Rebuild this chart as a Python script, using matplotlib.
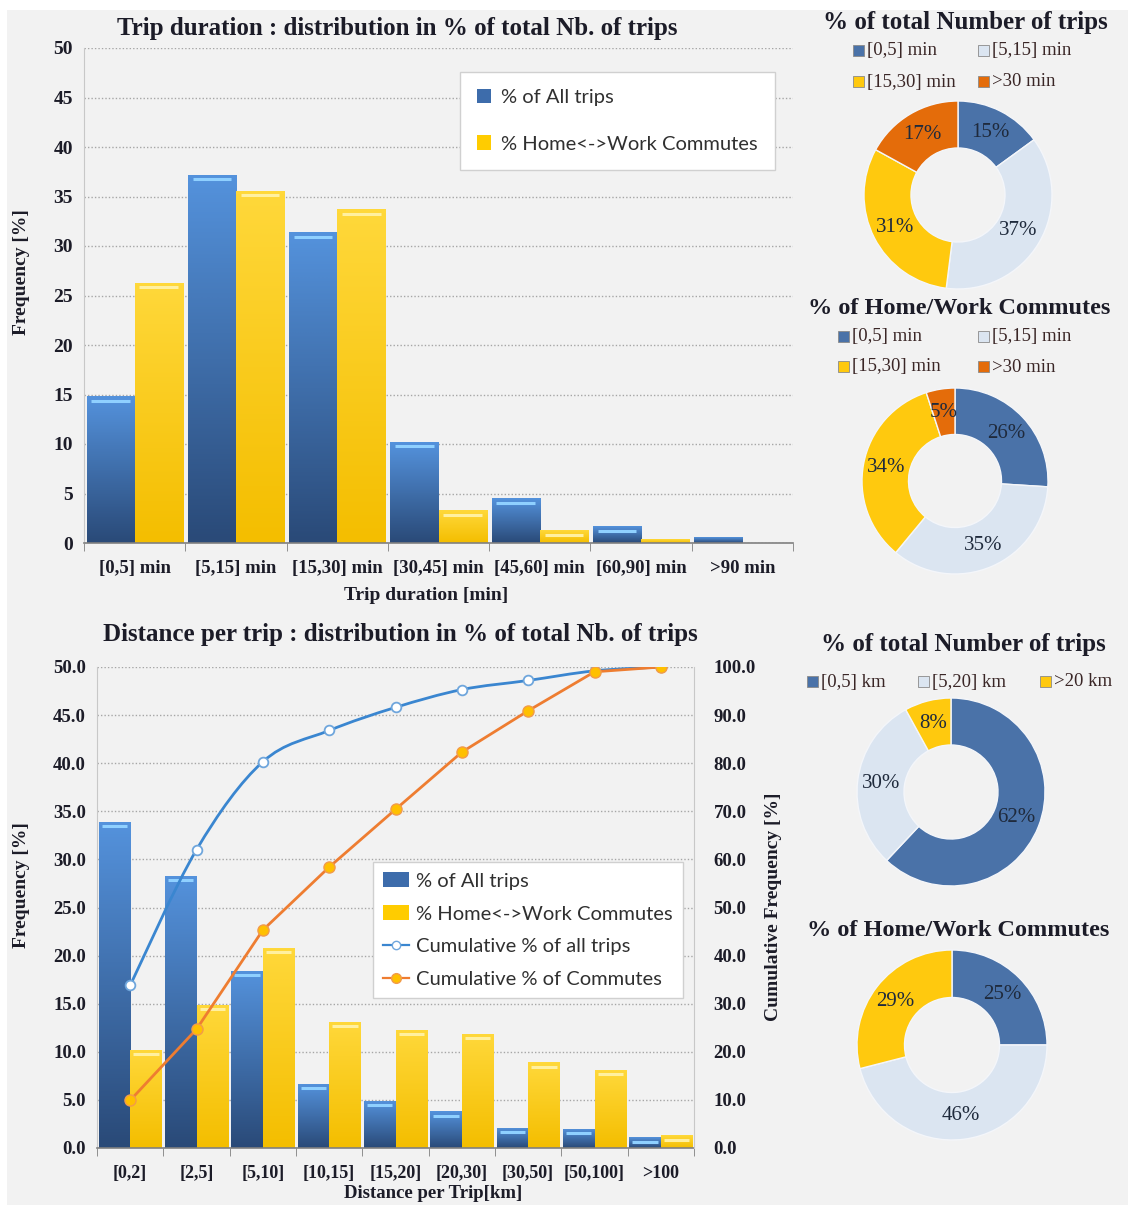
import numpy as np
import matplotlib
matplotlib.use("Agg")
import matplotlib.pyplot as plt
from matplotlib.patches import Rectangle, PathPatch
from matplotlib.path import Path
from matplotlib.lines import Line2D
from matplotlib.colors import LinearSegmentedColormap

# trip duration histogram
duration_bins = ['[0,5] min', '[5,15] min', '[15,30] min', '[30,45] min',
                 '[45,60] min', '[60,90] min', '>90 min']
duration_all = [14.8, 37.2, 31.4, 10.2, 4.5, 1.7, 0.6]
duration_commute = [26.3, 35.6, 33.7, 3.3, 1.3, 0.4, 0.0]

# duration shares for the donuts
duration_groups = ['[0,5] min', '[5,15] min', '[15,30] min', '>30 min']
duration_share_all = [15, 37, 31, 17]
duration_share_commute = [26, 35, 34, 5]

# distance histogram + cumulative curves
distance_bins = ['[0,2]', '[2,5]', '[5,10]', '[10,15]', '[15,20]',
                 '[20,30]', '[30,50]', '[50,100]', '>100']
distance_all = [33.9, 28.3, 18.4, 6.7, 4.9, 3.8, 2.1, 2.0, 1.1]
distance_commute = [10.2, 14.9, 20.8, 13.1, 12.3, 11.9, 8.9, 8.1, 1.3]
cum_all = [33.8, 62.0, 80.3, 86.8, 91.6, 95.3, 97.2, 99.2, 100.0]
cum_commute = [9.9, 24.7, 45.3, 58.4, 70.4, 82.3, 90.9, 99.0, 100.0]

# distance shares for the donuts
distance_groups = ['[0,5] km', '[5,20] km', '>20 km']
distance_share_all = [62, 30, 8]
distance_share_commute = [25, 46, 29]

W, H = 1128, 1205
BG = '#f2f2f2'
SERIF = 'Liberation Serif'
SANS = 'Lato'
INK = '#1c1c28'
DARK_BLUE = '#4a72a8'
LIGHT_BLUE = '#dbe5f1'
YELLOW = '#ffc90e'
ORANGE = '#e46c0a'

fig = plt.figure(figsize=(W / 100, H / 100), dpi=100, facecolor='white')
fig.patches.append(Rectangle((7 / W, 0), 1, 1 - 10 / H, transform=fig.transFigure,
                             facecolor=BG, edgecolor='none', zorder=-10))


def box(x0, y0, x1, y1):
    # pixel box (origin top-left) -> figure rect
    return [x0 / W, 1 - y1 / H, (x1 - x0) / W, (y1 - y0) / H]


def label_at(x, y, text, size, rotation=0, weight='bold'):
    fig.text(x / W, 1 - y / H, text, fontfamily=SERIF, fontweight=weight, fontsize=size,
             color=INK, ha='center', va='center', rotation=rotation)


def shade_bars(ax, bars, top, bottom, shine):
    cmap = LinearSegmentedColormap.from_list('bar', [bottom, top])
    grad = np.linspace(0, 1, 64).reshape(-1, 1)
    for p in bars:
        x, w, h = p.get_x(), p.get_width(), p.get_height()
        if h <= 0:
            continue
        im = ax.imshow(grad, cmap=cmap, origin='lower', aspect='auto',
                       extent=[x, x + w, 0, h], zorder=2.1, interpolation='bilinear')
        im.set_clip_path(p)
        if h > 1:
            ax.hlines(h - 0.45, x + w * 0.1, x + w * 0.9, color=shine, lw=2.2, zorder=2.2)


def style_axis(ax):
    ax.set_facecolor('none')
    for s in ('top', 'right'):
        ax.spines[s].set_visible(False)
    ax.spines['left'].set_color('#c8c8c8')
    ax.spines['bottom'].set_color('#808080')
    ax.spines['bottom'].set_linewidth(1.2)
    ax.grid(axis='y', color='#a6a6a6', linestyle=(0, (1, 1.5)), lw=1)
    ax.set_axisbelow(True)
    ax.tick_params(axis='y', length=0, pad=8)
    ax.tick_params(axis='x', which='major', length=0, pad=12)
    ax.tick_params(axis='x', which='minor', length=6, color='#808080', direction='out')
    for lab in ax.get_yticklabels() + ax.get_xticklabels():
        lab.set_fontfamily(SERIF)
        lab.set_fontweight('bold')
        lab.set_color(INK)


# ---------- top: trip duration bars ----------
bw = 0.475
ax1 = fig.add_axes(box(84, 48, 793, 543))
x = np.arange(len(duration_bins))
b1 = ax1.bar(x - bw / 2, duration_all, bw, color='#3d6cab', zorder=2, label='% of All trips')
b2 = ax1.bar(x + bw / 2, duration_commute, bw, color='#ffcc00', zorder=2,
             label='% Home<->Work Commutes')
shade_bars(ax1, b1, '#5492dc', '#2a4a78', '#8fd0ff')
shade_bars(ax1, b2, '#ffd83a', '#f4be00', '#fff0a0')
ax1.set_xlim(-0.5, len(duration_bins) - 0.5)
ax1.set_ylim(0, 50)
ax1.set_yticks(np.arange(0, 51, 5))
ax1.set_xticks(x)
ax1.set_xticklabels(duration_bins, fontsize=13.5)
ax1.set_xticks(np.arange(-0.5, len(duration_bins)), minor=True)
ax1.tick_params(axis='y', labelsize=14)
style_axis(ax1)
label_at(397, 29, 'Trip duration : distribution in % of total Nb. of trips', 18)
label_at(22, 272, 'Frequency [%]', 14, rotation=90)
label_at(426, 595, 'Trip duration [min]', 14)
leg1 = ax1.legend(handles=[b1, b2], loc='upper left', bbox_to_anchor=(460 / W, 1 - 72 / H),
                  bbox_transform=fig.transFigure, prop={'family': SANS, 'size': 14.5},
                  handlelength=0.7, handleheight=0.7, handletextpad=0.5, labelspacing=1.45,
                  borderpad=0.85, borderaxespad=0, fancybox=False, framealpha=1,
                  edgecolor='#d0d0d0')
leg1.get_frame().set_linewidth(1)
for t in leg1.get_texts():
    t.set_color('#303030')

# ---------- bottom: distance bars + cumulative ----------
ax2 = fig.add_axes(box(97, 667, 694, 1148))
x2 = np.arange(len(distance_bins))
d1 = ax2.bar(x2 - bw / 2, distance_all, bw, color='#3d6cab', zorder=2, label='% of All trips')
d2 = ax2.bar(x2 + bw / 2, distance_commute, bw, color='#ffcc00', zorder=2,
             label='% Home<->Work Commutes')
shade_bars(ax2, d1, '#5492dc', '#2a4a78', '#8fd0ff')
shade_bars(ax2, d2, '#ffd83a', '#f4be00', '#fff0a0')
ax2.set_xlim(-0.5, len(distance_bins) - 0.5)
ax2.set_ylim(0, 50)
ax2.set_yticks(np.arange(0, 51, 5))
ax2.set_yticklabels([f'{v:.1f}' for v in np.arange(0, 51, 5)])
ax2.set_xticks(x2)
ax2.set_xticklabels(distance_bins, fontsize=13)
ax2.set_xticks(np.arange(-0.5, len(distance_bins)), minor=True)
ax2.tick_params(axis='y', labelsize=13.5)
style_axis(ax2)
label_at(400, 635, 'Distance per trip : distribution in % of total Nb. of trips', 18)
label_at(22, 885, 'Frequency [%]', 14, rotation=90)
label_at(433, 1194, 'Distance per Trip[km]', 13.5)

ax3 = ax2.twinx()
ax3.set_ylim(0, 100)
ax3.set_yticks(np.arange(0, 101, 10))
ax3.set_yticklabels([f'{v:.1f}' for v in np.arange(0, 101, 10)])
ax3.tick_params(axis='y', length=0, pad=14, labelsize=13.5)
for lab in ax3.get_yticklabels():
    lab.set_fontfamily(SERIF)
    lab.set_fontweight('bold')
    lab.set_color(INK)
for s in ('top', 'left', 'bottom'):
    ax3.spines[s].set_visible(False)
ax3.spines['right'].set_color('#c8c8c8')
label_at(773, 907, 'Cumulative Frequency [%]', 14, rotation=90)


def smooth_path(xs, ys):
    # cubic Bezier through the points, like a smoothed spreadsheet line
    pts = np.column_stack([xs, ys]).astype(float)
    verts, codes = [pts[0]], [Path.MOVETO]
    n = len(pts)
    for i in range(n - 1):
        p0, p1 = pts[max(i - 1, 0)], pts[i]
        p2, p3 = pts[i + 1], pts[min(i + 2, n - 1)]
        verts += [p1 + (p2 - p0) / 6, p2 - (p3 - p1) / 6, p2]
        codes += [Path.CURVE4] * 3
    return Path(verts, codes)


LINE_BLUE = '#3a86d0'
ax3.add_patch(PathPatch(smooth_path(x2, cum_all), facecolor='none', edgecolor=LINE_BLUE,
                        lw=2, zorder=3))
ax3.plot(x2, cum_all, linestyle='none', marker='o', ms=7, mfc='white', mec='#6fa6dc',
         mew=1.3, zorder=4)
ax3.plot(x2, cum_commute, color='#ee7d31', lw=2, marker='o', ms=8, mfc='#ffc000',
         mec='#f29b4a', mew=1, zorder=4)

h3 = Line2D([], [], color=LINE_BLUE, lw=1.6, marker='o', ms=6, mfc='white', mec='#6fa6dc')
h4 = Line2D([], [], color='#ee7d31', lw=1.6, marker='o', ms=7, mfc='#ffc000', mec='#f29b4a')
leg2 = ax3.legend(handles=[d1, d2, h3, h4],
                  labels=['% of All trips', '% Home<->Work Commutes',
                          'Cumulative % of all trips', 'Cumulative % of Commutes'],
                  loc='upper left', bbox_to_anchor=(373 / W, 1 - 862 / H),
                  bbox_transform=fig.transFigure, prop={'family': SANS, 'size': 14.5},
                  handlelength=1.3, handleheight=0.8, handletextpad=0.35, labelspacing=0.75,
                  borderpad=0.5, borderaxespad=0, fancybox=False, framealpha=1,
                  edgecolor='#d0d0d0')
leg2.set_zorder(10)
for t in leg2.get_texts():
    t.set_color('#303030')


# ---------- donuts ----------
def donut(cx, cy, r, values, colors):
    ax = fig.add_axes(box(cx - r, cy - r, cx + r, cy + r))
    ax.pie(values, colors=colors, startangle=90, counterclock=False, radius=1,
           autopct=lambda p: f'{p:.0f}%', pctdistance=0.75,
           wedgeprops=dict(width=0.5, edgecolor='#f4f6fa', linewidth=1),
           textprops=dict(family=SERIF, fontsize=15, color='#1f2a3c'))
    ax.set_xlim(-1, 1)
    ax.set_ylim(-1, 1)
    ax.set_aspect('equal')
    ax.axis('off')


def key(x, y, color, label):
    fig.patches.append(Rectangle((x / W, 1 - (y + 5) / H), 11 / W, 11 / H,
                                 transform=fig.transFigure, facecolor=color,
                                 edgecolor='#8a8a8a', lw=0.6))
    fig.text((x + 14) / W, 1 - y / H, label, fontfamily=SERIF, fontsize=13.5,
             color='#3a2626', va='center', ha='left')


dur_colors = [DARK_BLUE, LIGHT_BLUE, YELLOW, ORANGE]
dist_colors = [DARK_BLUE, LIGHT_BLUE, YELLOW]

label_at(965, 22, '% of total Number of trips', 18)
for (kx, ky), c, lab in zip([(853, 51), (978, 51), (853, 82), (978, 82)], dur_colors,
                            duration_groups):
    key(kx, ky, c, lab)
donut(958, 195, 94, duration_share_all, dur_colors)

label_at(959, 308, '% of Home/Work Commutes', 17.5)
for (kx, ky), c, lab in zip([(838, 337), (978, 337), (838, 367), (978, 367)], dur_colors,
                            duration_groups):
    key(kx, ky, c, lab)
donut(955, 481, 93, duration_share_commute, dur_colors)

label_at(963, 645, '% of total Number of trips', 18)
for kx, c, lab in zip([807, 918, 1040], dist_colors, distance_groups):
    key(kx, 682, c, lab)
donut(951, 792, 94, distance_share_all, dist_colors)

label_at(958, 930, '% of Home/Work Commutes', 17.5)
donut(952, 1045, 95, distance_share_commute, dist_colors)

fig.savefig('out.png', dpi=100, facecolor=fig.get_facecolor())
